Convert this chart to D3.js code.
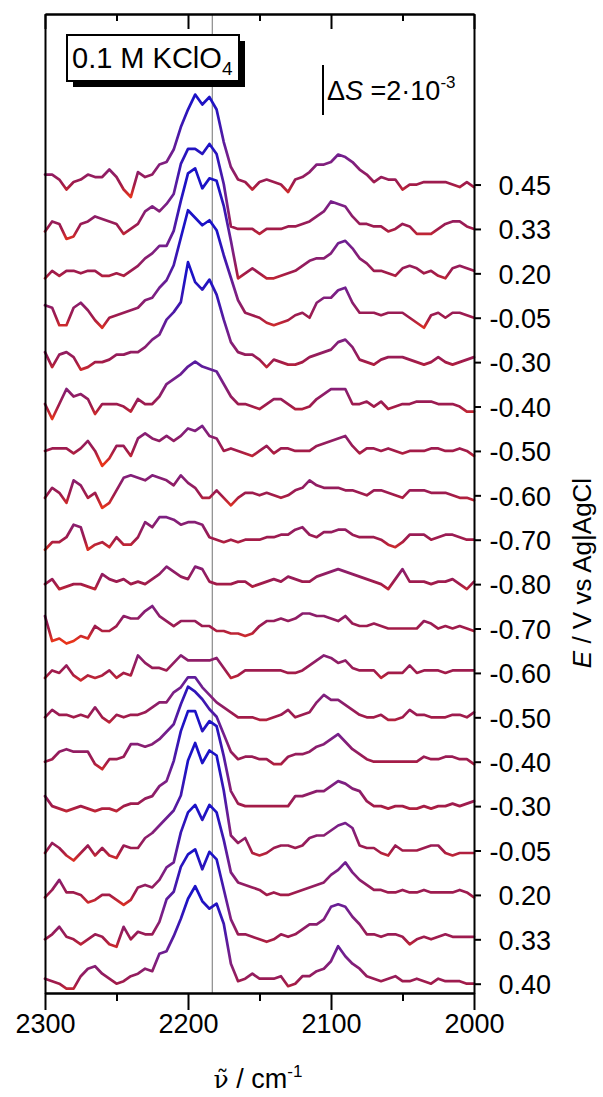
<!DOCTYPE html>
<html>
<head>
<meta charset="utf-8">
<script src="https://cdn.jsdelivr.net/npm/d3@7"></script>
<style>
  body { margin: 0; background: #fff; }
  svg { display: block; font-family: Arial, "Liberation Sans", sans-serif; }
</style>
</head>
<body>
<script>
// sampled wavenumber grid, cm-1 (2300 -> 2000, every 5)
const wavenumbers = d3.range(2300, 1999, -5);

// electrode potential of each spectrum, top to bottom (V vs Ag|AgCl)
const potentials = ["0.45", "0.33", "0.20", "-0.05", "-0.30", "-0.40", "-0.50", "-0.60", "-0.70",
  "-0.80", "-0.70", "-0.60", "-0.50", "-0.40", "-0.30", "-0.05", "0.20", "0.33", "0.40"];

// ΔS in units of 1e-4, one value per wavenumber
const s045a = [4,4,2,-2,1, 2,4,3,3,6, 3,-2,-5,5,3, 4,8,9,14,23, 30,36,32,35,30, 17,7,2,1,-2, 1,2,1,0,-3, 2,3,5,8,8, 9,12,11,9,6, 4,1,3,2,2, -2,0,0,1,1, 1,1,0,-1,1, -1];
const s033a = [-1,3,2,-4,-3, 2,3,5,4,3, 2,-2,0,2,7, 9,7,10,14,26, 32,32,30,34,30, 18,1,0,0,0, -2,0,0,0,1, 1,2,3,5,7, 11,10,9,5,2, 2,1,1,-1,0, 2,1,-2,-2,-2, 0,2,3,3,1, 0];
const s020a = [-2,1,-1,1,1, 0,1,1,-1,-1, 0,-1,1,3,6, 8,11,11,17,29, 40,42,34,38,37, 27,13,-2,0,2, 0,-2,-2,-1,0, 1,3,5,6,6, 8,12,13,10,6, 4,1,1,0,-1, 2,3,2,0,1, -1,-2,2,3,2, 1];
const sm005a = [5,4,-3,-3,4, 6,3,-1,-4,0, 1,2,3,4,7, 8,12,15,21,32, 43,40,37,39,35, 25,16,7,2,1, 0,-2,-3,-2,-1, 1,2,0,6,8, 8,11,12,6,2, 2,2,1,2,2, 2,0,-2,-4,1, 2,0,2,2,1, 0];
const sm030a = [4,-2,3,4,2, -3,-2,0,0,1, 3,3,4,4,6, 9,11,17,20,24, 40,32,29,33,27, 17,8,4,3,3, 1,-2,1,0,-1, -1,0,2,3,4, 5,8,9,6,1, 0,-1,1,2,2, 2,1,0,-1,0, 2,0,-1,0,1, 2];
const sm040a = [1,-5,1,7,4, 5,3,-3,1,1, 1,0,-2,3,1, 1,4,9,11,13, 16,18,16,15,14, 9,4,1,1,0, -1,1,3,3,1, -1,-1,0,3,5, 7,7,7,1,1, 2,0,2,-1,0, 1,1,2,2,2, 1,1,1,0,-2, -2];
const sm050a = [0,1,1,1,-1, 1,4,0,-6,-3, 2,2,-2,5,7, 5,4,6,4,6, 9,8,10,6,5, 0,1,0,-1,-2, 0,2,-1,1,1, 0,0,0,2,3, 4,5,6,2,-1, 1,1,0,1,0, -1,0,0,0,1, 1,0,0,1,0, -2];
const sm060a = [-1,3,1,-3,6, 4,-1,1,-5,-3, 2,7,8,7,6, 8,7,6,4,8, 5,3,-1,-1,2, -1,-4,-1,1,1, 0,1,0,-1,0, 2,3,6,4,3, 3,3,2,2,1, 0,2,2,1,0, -1,2,2,2,1, 1,1,0,-1,-1, -2];
const sm070a = [-4,-1,-1,1,6, 5,-4,-2,-1,-3, 1,-2,-2,1,7, 5,9,9,8,6, 7,7,6,1,0, -1,0,-1,0,0, 0,1,1,2,2, 4,5,2,1,3, 3,4,4,2,1, 1,1,0,-2,-3, -1,2,2,2,0, 1,2,2,1,0, 0];
const sm080 = [0,2,-2,-1,0, 0,-1,-2,4,2, 1,2,0,1,0, 2,4,7,5,3, 2,7,6,1,0, 0,0,1,1,-1, 0,1,2,1,3, 2,1,1,3,4, 5,6,5,4,3, 2,1,0,-2,2, 6,1,1,1,0, 1,1,2,0,-2, 1];
const sm070b = [5,-5,-4,-6,-5, -3,-4,1,-1,-1, 1,5,4,4,7, 9,5,3,1,3, 3,3,1,1,-1, -1,-2,-2,-3,-2, 1,3,3,4,3, 4,6,6,5,5, 4,3,5,2,1, 1,2,1,0,0, 0,0,0,3,2, 0,1,0,1,0, -1];
const sm060b = [-2,1,0,3,-1, -3,-1,-2,-1,1, -2,0,-1,7,4, 2,2,1,4,7, 5,5,5,5,6, 2,-2,-1,1,1, 1,1,1,1,0, 0,1,3,5,7, 6,4,5,2,1, 1,1,-2,0,0, 0,3,0,1,1, 1,0,1,1,1, 1];
const sm050b = [0,3,1,1,0, 1,0,4,0,-2, 1,0,1,1,2, 4,6,6,10,12, 16,16,12,9,6, 4,2,0,0,0, -1,-1,0,1,3, 0,1,2,6,9, 7,7,5,3,1, 0,0,1,-1,-1, 0,3,1,1,0, 0,0,1,1,0, 2];
const sm040b = [0,1,4,5,4, 4,4,-1,-3,1, 1,2,7,7,6, 7,9,12,15,23, 30,28,25,21,18, 11,4,1,2,2, 1,1,-1,-1,2, 3,3,4,6,7, 9,11,8,5,3, 1,0,0,0,0, 0,0,0,2,1, 1,2,2,1,1, -1];
const sm030b = [4,0,-1,-2,-1, 0,-1,-2,-1,-1, -2,0,1,1,3, 4,8,10,18,30, 38,38,30,34,32, 20,6,1,0,0, 0,0,0,0,0, 4,4,5,6,6, 8,10,9,7,6, 2,0,0,-1,0, 0,-1,-1,0,-1, 0,0,1,0,1, 2];
const sm005b = [-1,3,1,-2,-4, -1,2,-2,1,-2, -3,2,1,1,5, 7,10,13,16,22, 36,43,35,40,38, 24,6,3,5,-1, -2,-1,1,2,2, 1,2,5,6,6, 8,10,11,9,2, 1,1,-1,-2,2, 0,0,0,1,2, 2,-1,-2,-1,-1, -1];
const s020b = [-1,2,6,1,1, 0,-3,-2,0,0, -2,-4,-2,3,4, 3,6,11,13,25, 33,36,30,36,33, 22,9,5,4,3, 2,0,1,0,0, 1,2,3,4,5, 8,10,13,9,6, 4,2,2,1,1, 2,1,1,2,1, 1,1,1,2,1, -1];
const s033b = [0,2,5,1,0, -2,0,2,1,-2, -3,5,0,3,2, 2,7,16,19,29, 34,36,28,35,32, 20,8,2,2,1, 0,-1,0,2,1, 2,4,6,6,8, 13,14,13,9,6, 2,2,1,2,2, 1,-2,0,1,0, 1,2,1,1,1, 1];
const s040b = [2,1,0,-2,-2, 3,6,7,4,2, 0,1,3,4,6, 5,12,13,19,26, 34,39,33,30,32, 24,8,1,2,4, 2,2,2,3,-1, 0,3,3,5,6, 9,15,11,8,6, 3,2,1,2,3, 1,1,2,1,0, 2,1,1,1,0, 0];

const spectra = [s045a, s033a, s020a, sm005a, sm030a, sm040a, sm050a, sm060a, sm070a, sm080,
  sm070b, sm060b, sm050b, sm040b, sm030b, sm005b, s020b, s033b, s040b];

const offsetStep = 17.76;          // vertical shift between spectra, 1e-4 units
const xMajor = [2300, 2200, 2100, 2000];
const xMinor = [2250, 2150, 2050];
const markerWavenumber = 2183;
const scaleBarValue = 20;          // 2e-3

// colour follows signal height: red dips, crimson baseline, blue peaks
const colorStops = [
  { v: -5, c: "#e8341a" },
  { v: 0, c: "#a21b48" },
  { v: 10, c: "#7a2088" },
  { v: 22, c: "#4318ad" },
  { v: 34, c: "#1c12c6" }
];

const W = 603, H = 1097;
const plot = { left: 45, right: 474, top: 14, bottom: 993 };
const font = "Arial, 'Liberation Sans', sans-serif";

const svg = d3.select("body").append("svg")
  .attr("width", W)
  .attr("height", H);

const x = d3.scaleLinear().domain([2300, 2000]).range([plot.left, plot.right]);
const y = d3.scaleLinear().domain([-3.72, 387.9]).range([plot.bottom, plot.top]);

const n = spectra.length;
const offsets = spectra.map((d, i) => (n - 1 - i) * offsetStep);

// gradients, one per spectrum, placed at its own offset
const defs = svg.append("defs");
const vMin = colorStops[0].v, vMax = colorStops[colorStops.length - 1].v;
defs.selectAll("linearGradient")
  .data(offsets)
  .join("linearGradient")
  .attr("id", (d, i) => "grad" + i)
  .attr("gradientUnits", "userSpaceOnUse")
  .attr("x1", 0).attr("x2", 0)
  .attr("y1", d => y(d + vMin))
  .attr("y2", d => y(d + vMax))
  .selectAll("stop")
  .data(colorStops)
  .join("stop")
  .attr("offset", s => (s.v - vMin) / (vMax - vMin))
  .attr("stop-color", s => s.c);

// thin marker line
svg.append("line")
  .attr("x1", x(markerWavenumber)).attr("x2", x(markerWavenumber))
  .attr("y1", plot.top).attr("y2", plot.bottom)
  .attr("stroke", "#8a8a8a")
  .attr("stroke-width", 1.2);

const line = d3.line()
  .x((d, i) => x(wavenumbers[i]))
  .y(d => d);

svg.append("g")
  .selectAll("path")
  .data(spectra)
  .join("path")
  .attr("d", (s, i) => line(s.map(v => y(v + offsets[i]))))
  .attr("fill", "none")
  .attr("stroke", (s, i) => `url(#grad${i})`)
  .attr("stroke-width", 2.7)
  .attr("stroke-linejoin", "round")
  .attr("stroke-linecap", "round");

// axes
function styleAxis(g) {
  g.selectAll(".domain").attr("stroke", "#000").attr("stroke-width", 2);
  g.selectAll(".tick line").attr("stroke", "#000").attr("stroke-width", 2);
  g.selectAll("text").attr("fill", "#000").attr("font-family", font);
}

// bottom: labelled major ticks and short minor ticks, both outward
svg.append("g")
  .attr("transform", `translate(0,${plot.bottom})`)
  .call(d3.axisBottom(x).tickValues(xMajor).tickSize(17).tickSizeOuter(0).tickPadding(4).tickFormat(d3.format("d")))
  .call(styleAxis)
  .call(g => g.selectAll("text").attr("font-size", 27).attr("dy", "0.71em"));

svg.append("g")
  .attr("transform", `translate(0,${plot.bottom})`)
  .call(d3.axisBottom(x).tickValues(xMinor).tickSize(8).tickSizeOuter(0).tickFormat(""))
  .call(styleAxis);

// top: inward ticks, no labels
svg.append("g")
  .attr("transform", `translate(0,${plot.top})`)
  .call(d3.axisBottom(x).tickValues(xMajor).tickSize(15).tickSizeOuter(0).tickFormat(""))
  .call(styleAxis);
svg.append("g")
  .attr("transform", `translate(0,${plot.top})`)
  .call(d3.axisBottom(x).tickValues(xMinor).tickSize(7).tickSizeOuter(0).tickFormat(""))
  .call(styleAxis);

// left: plain frame line
svg.append("g")
  .attr("transform", `translate(${plot.left},0)`)
  .call(d3.axisLeft(y).tickValues([]).tickSizeOuter(0))
  .call(styleAxis);

// right: one tick per spectrum with its potential
svg.append("g")
  .attr("transform", `translate(${plot.right},0)`)
  .call(d3.axisRight(y).tickValues(offsets).tickSize(7).tickSizeOuter(0)
    .tickFormat((d, i) => potentials[i]))
  .call(styleAxis)
  .call(g => g.selectAll("text")
    .attr("font-size", 27)
    .attr("text-anchor", "end")
    .attr("x", 77)
    .attr("dy", "0.36em"));

// axis titles
const xTitle = svg.append("text")
  .attr("x", 258)
  .attr("y", 1088)
  .attr("text-anchor", "middle")
  .attr("font-size", 27)
  .attr("font-family", font);
xTitle.append("tspan")
  .attr("font-family", "'DejaVu Serif', 'Liberation Serif', serif")
  .attr("font-size", 25)
  .text("\u03BD\u0303");
xTitle.append("tspan").text(" / cm");
xTitle.append("tspan").attr("font-size", 17).attr("dy", -11).text("-1");

const yTitle = svg.append("text")
  .attr("transform", "translate(582,573) rotate(-90)")
  .attr("text-anchor", "middle")
  .attr("dominant-baseline", "central")
  .attr("font-size", 26)
  .attr("font-family", font);
yTitle.append("tspan").attr("font-style", "italic").text("E");
yTitle.append("tspan").text(" / V vs Ag|AgCl");

// electrolyte box with drop shadow
const box = { x: 67, y: 35, w: 172, h: 46, shadow: 6 };
svg.append("rect")
  .attr("x", box.x + box.shadow).attr("y", box.y + box.shadow)
  .attr("width", box.w).attr("height", box.h)
  .attr("fill", "#000");
svg.append("rect")
  .attr("x", box.x).attr("y", box.y)
  .attr("width", box.w).attr("height", box.h)
  .attr("fill", "#fff")
  .attr("stroke", "#000")
  .attr("stroke-width", 2);
const boxText = svg.append("text")
  .attr("x", box.x + 5)
  .attr("y", box.y + 33)
  .attr("font-size", 29)
  .attr("font-family", font);
boxText.append("tspan").text("0.1 M KClO");
boxText.append("tspan").attr("font-size", 19).attr("dy", 7).text("4");

// scale bar
const barX = 323, barTop = 65;
svg.append("line")
  .attr("x1", barX).attr("x2", barX)
  .attr("y1", barTop)
  .attr("y2", barTop + (y(0) - y(scaleBarValue)))
  .attr("stroke", "#000")
  .attr("stroke-width", 2);
const barText = svg.append("text")
  .attr("x", barX + 4)
  .attr("y", 100)
  .attr("font-size", 27)
  .attr("font-family", font);
barText.append("tspan").text("\u0394");
barText.append("tspan").attr("font-style", "italic").text("S");
barText.append("tspan").text(" =2\u00B710");
barText.append("tspan").attr("font-size", 17).attr("dy", -12).text("-3");
</script>
</body>
</html>
